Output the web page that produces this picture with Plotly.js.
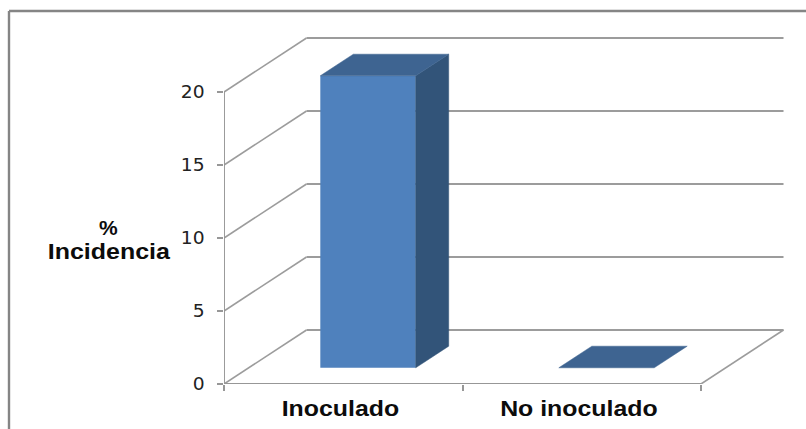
<!DOCTYPE html>
<html>
<head>
<meta charset="utf-8">
<script src="https://cdn.plot.ly/plotly-3.0.1.min.js"></script>
<style>html,body{margin:0;padding:0;background:#fff;overflow:hidden}#chart{width:806px;height:429px}</style>
</head>
<body>
<div id="chart"></div>
<script>
// Percent incidence per treatment
const categories = ['Inoculado', 'No inoculado'];
const incidence = [20, 0];
const yTicks = [0, 5, 10, 15, 20];

// Oblique projection: how far one full unit of depth moves a point, in axis units
const DEPTH_X = 0.346;
const DEPTH_Y = 3.7;
const BAR_WIDTH = 0.4;
const BAR_NEAR = 0.3;   // depth of a bar's front face
const BAR_FAR = 0.7;    // depth of a bar's back face

const FRONT = '#4f81bd', SIDE = '#325479', TOP = '#3e6491';
const WALL = '#9c9c9c', AXIS = '#979797', FRAME = '#858585';

const xMax = categories.length;
const project = (x, y, d) => [x + d * DEPTH_X, y + d * DEPTH_Y];

// Wall and floor lines sit under the bars, so they go in as below-layer shapes
const line = (a, b, color, width) => ({
  type: 'line', layer: 'below', xref: 'x', yref: 'y',
  x0: a[0], y0: a[1], x1: b[0], y1: b[1],
  line: {color: color, width: width}
});
const shapes = [];
yTicks.forEach(v => {
  shapes.push(line(project(0, v, 0), project(0, v, 1), WALL, 1.6));
  shapes.push(line(project(0, v, 1), project(xMax, v, 1), WALL, 1.9));
});
shapes.push(line(project(xMax, 0, 0), project(xMax, 0, 1), WALL, 1.6));

// Chart frame: only its left and top edges fall inside the page
const plotL = 224, plotT = 30, plotW = 570, plotH = 354;
const px = v => (v - plotL) / plotW;
const py = v => 1 - (v - plotT) / plotH;
[[9, 11, 9, 429], [9, 11, 806, 11]].forEach(s => shapes.push({
  type: 'line', xref: 'paper', yref: 'paper',
  x0: px(s[0]), y0: py(s[1]), x1: px(s[2]), y1: py(s[3]),
  line: {color: FRAME, width: 2.4}
}));

const polygon = (pts, color) => ({
  type: 'scatter', mode: 'lines', fill: 'toself', fillcolor: color,
  x: pts.map(p => p[0]).concat(pts[0][0]),
  y: pts.map(p => p[1]).concat(pts[0][1]),
  line: {color: color, width: 0.5},
  hoverinfo: 'skip', showlegend: false
});

const centers = categories.map((_, i) => i + 0.5);
const traces = [{
  // Front faces of the bars
  type: 'bar',
  x: centers.map(c => c + BAR_NEAR * DEPTH_X),
  y: incidence,
  base: incidence.map(() => BAR_NEAR * DEPTH_Y),
  width: BAR_WIDTH,
  marker: {color: FRONT, line: {width: 0}},
  text: categories, hovertemplate: '%{text}: %{y}%<extra></extra>',
  textposition: 'none', showlegend: false
}];

incidence.forEach((v, i) => {
  const l = centers[i] - BAR_WIDTH / 2, r = centers[i] + BAR_WIDTH / 2;
  if (v > 0) {
    traces.push(polygon([
      project(r, 0, BAR_NEAR), project(r, 0, BAR_FAR),
      project(r, v, BAR_FAR), project(r, v, BAR_NEAR)
    ], SIDE));
  }
  traces.push(polygon([
    project(l, v, BAR_NEAR), project(l, v, BAR_FAR),
    project(r, v, BAR_FAR), project(r, v, BAR_NEAR)
  ], TOP));
});

// Front axis lines stop at the data range, short of the back wall
traces.push({
  type: 'scatter', mode: 'lines', cliponaxis: false,
  x: [0, 0, xMax], y: [yTicks[yTicks.length - 1], 0, 0],
  line: {color: AXIS, width: 1.9}, hoverinfo: 'skip', showlegend: false
});

const BOLD = 'Liberation Sans, Arial, sans-serif';
const layout = {
  width: 806, height: 429,
  margin: {l: plotL, r: 806 - plotL - plotW, t: plotT, b: 429 - plotT - plotH, pad: 0},
  paper_bgcolor: '#fff', plot_bgcolor: 'rgba(0,0,0,0)',
  showlegend: false, barmode: 'overlay',
  font: {family: BOLD, color: '#111'},
  xaxis: {
    range: [0, plotW / 238.5], fixedrange: true,
    showgrid: false, zeroline: false, showline: false,
    tickmode: 'array', tickvals: centers.map(c => c - 0.012), ticktext: categories,
    ticks: '', ticklabelstandoff: 9,
    tickfont: {family: BOLD, size: 22, weight: 700, color: '#0c0c0c'},
    minor: {tickmode: 'array', tickvals: [0, 1, 2], ticks: 'outside', ticklen: 6, tickwidth: 1.7, tickcolor: AXIS, showgrid: false}
  },
  yaxis: {
    range: [0, plotH / 14.6], fixedrange: true,
    showgrid: false, zeroline: false, showline: false,
    tickmode: 'array', tickvals: yTicks,
    ticks: 'outside', ticklen: 6, tickwidth: 1.7, tickcolor: AXIS,
    ticklabelstandoff: 9,
    tickfont: {family: 'DejaVu Sans, sans-serif', size: 17, color: '#222'}
  },
  shapes: shapes,
  annotations: [
    {text: '%', py: 227, size: 21},
    {text: 'Incidencia', py: 251, size: 22}
  ].map(a => ({
    xref: 'paper', yref: 'paper', x: px(108.5), y: py(a.py),
    xanchor: 'center', yanchor: 'middle', showarrow: false,
    text: a.text,
    font: {family: BOLD, size: a.size, weight: 700, color: '#0c0c0c'}
  }))
};

// The labels are set wider than the face's natural proportions
function widen(selector, factor) {
  document.querySelectorAll(selector).forEach(t => {
    t.setAttribute('textLength', t.getComputedTextLength() * factor);
    t.setAttribute('lengthAdjust', 'spacingAndGlyphs');
  });
}

Plotly.newPlot('chart', traces, layout, {displayModeBar: false, responsive: false}).then(() => {
  widen('.xtick text', 1.13);
  widen('.ytick text', 1.1);
  document.querySelectorAll('.annotation-text').forEach(t => {
    if (t.textContent === 'Incidencia') {
      t.setAttribute('textLength', t.getComputedTextLength() * 1.135);
      t.setAttribute('lengthAdjust', 'spacingAndGlyphs');
    }
  });
});
</script>
</body>
</html>
